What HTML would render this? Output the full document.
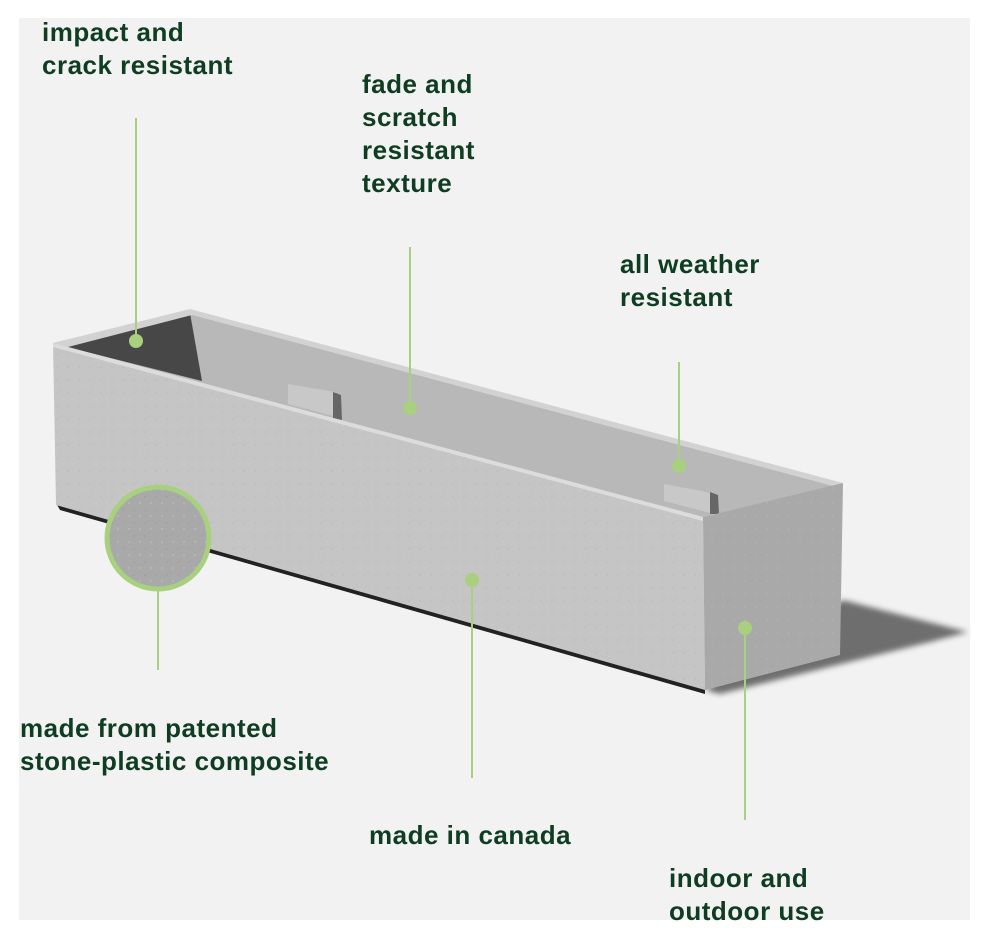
<!DOCTYPE html>
<html><head><meta charset="utf-8"><style>
html,body{margin:0;padding:0;background:#fff;}
.wrap{position:relative;width:990px;height:940px;overflow:hidden;background:#fff;}
.bg{position:absolute;left:19px;top:18px;width:951px;height:902px;background:#f2f2f2;}
svg{position:absolute;left:0;top:0;}
.t{position:absolute;font-family:"Liberation Sans",sans-serif;font-size:26px;line-height:33px;color:#0f3d22;font-weight:600;white-space:nowrap;letter-spacing:0.5px;}
</style></head><body><div class="wrap">
<div class="bg"></div>
<svg width="990" height="940" viewBox="0 0 990 940">
<defs>
<filter id="blur"><feGaussianBlur stdDeviation="3"/></filter>
<pattern id="spk" width="11" height="13" patternUnits="userSpaceOnUse"><circle cx="2" cy="3" r="0.5" fill="#8a8a8a"/><circle cx="8" cy="9" r="0.5" fill="#e6e6e6"/><circle cx="5" cy="1" r="0.4" fill="#999"/></pattern>
</defs>
<polygon points="843,600 968,632 930,642 720,694 705,690" fill="#6e6e6e" filter="url(#blur)"/>
<polygon points="56,503 705,688 705,694 60,510" fill="#222"/>
<polygon points="190,311 843,484 703,517 53,343" fill="#b8b8b8"/>
<polygon points="190,313 202,381 67,347" fill="#474747"/>
<polygon points="288,384 335,392 341,418 288,404" fill="#c8c8c8"/>
<polygon points="333,392 341,395 342,420 333,418" fill="#666"/>
<polygon points="664,484 712,493 718,515 664,501" fill="#c8c8c8"/>
<polygon points="710,492 718,495 719,514 710,514" fill="#666"/>
<polygon points="53,343 190,309 843,483 833,486 192,315 68,347" fill="#d2d2d2"/>
<polygon points="53,343 703,517 705,690 56,505" fill="#c5c5c5"/>
<polygon points="53,343 703,517 705,690 56,505" fill="url(#spk)" opacity="0.4"/>
<polygon points="53,343 703,517 703,521 53,347" fill="#dcdcdc"/>
<polygon points="703,517 843,483 840,655 705,690" fill="#a9a9a9"/>
<polygon points="703,517 843,483 840,655 705,690" fill="url(#spk)" opacity="0.4"/>
<circle cx="158" cy="538" r="50" fill="#a9a9a9"/>
<circle cx="158" cy="538" r="50" fill="url(#spk)"/>
<circle cx="158" cy="538" r="51" fill="none" stroke="#a8d07f" stroke-width="5"/>
<g stroke="#a8d07f" stroke-width="2">
<line x1="136" y1="118" x2="136" y2="341"/>
<line x1="410" y1="247" x2="410" y2="408"/>
<line x1="679" y1="362" x2="679" y2="466"/>
<line x1="158" y1="590" x2="158" y2="670"/>
<line x1="472" y1="580" x2="472" y2="778"/>
<line x1="745" y1="628" x2="745" y2="820"/>
</g>
<g fill="#a8d07f">
<circle cx="136" cy="341" r="7"/>
<circle cx="410" cy="408" r="7"/>
<circle cx="679" cy="466" r="7"/>
<circle cx="472" cy="580" r="7"/>
<circle cx="745" cy="628" r="7"/>
</g>
</svg>
<div class="t" style="left:42px;top:16px;">impact and<br>crack resistant</div>
<div class="t" style="left:362px;top:68px;">fade and<br>scratch<br>resistant<br>texture</div>
<div class="t" style="left:620px;top:248px;">all weather<br>resistant</div>
<div class="t" style="left:20px;top:712px;">made from patented<br>stone-plastic composite</div>
<div class="t" style="left:369px;top:819px;">made in canada</div>
<div class="t" style="left:669px;top:862px;">indoor and<br>outdoor use</div>
</div></body></html>
